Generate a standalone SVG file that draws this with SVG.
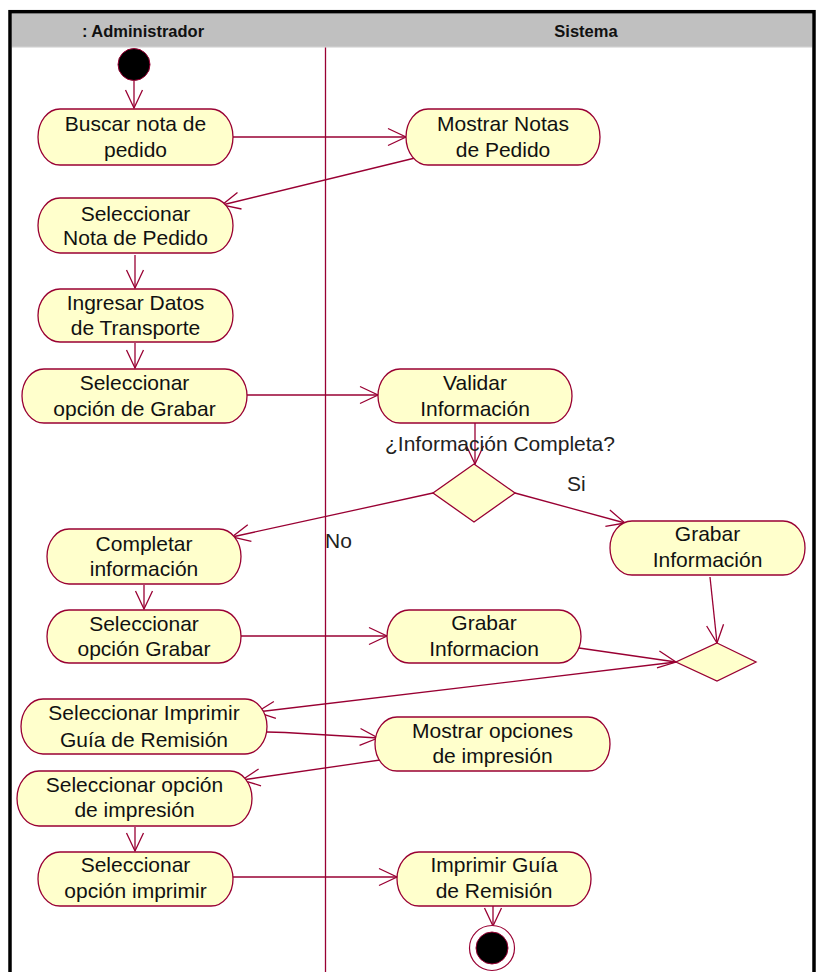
<svg xmlns="http://www.w3.org/2000/svg" width="820" height="972" viewBox="0 0 820 972">
  <defs>
    <style>
      .act { fill: #FFFFCC; stroke: #990033; stroke-width: 1.3; }
      .lbl { font-family: "Liberation Sans", Arial, sans-serif; font-size: 21px; fill: #111; text-anchor: middle; }
      .note { font-family: "Liberation Sans", Arial, sans-serif; font-size: 21px; fill: #222; }
      .hdr { font-family: "Liberation Sans", Arial, sans-serif; font-size: 16.5px; font-weight: bold; fill: #111; text-anchor: middle; }
      .flow { fill: none; stroke: #990033; stroke-width: 1.3; marker-end: url(#open); }
      .dec { fill: #FFFFCC; stroke: #990033; stroke-width: 1.3; }
    </style>
    <marker id="open" markerUnits="userSpaceOnUse" markerWidth="22" markerHeight="22" viewBox="0 0 22 22" refX="19" refY="11" orient="auto">
      <path d="M1,2.5 L19,11 L1,19.5" fill="none" stroke="#990033" stroke-width="1.3"/>
    </marker>
  </defs>

  <rect width="820" height="972" fill="#ffffff"/>

  <!-- swimlane header and frame -->
  <g id="lanes">
    <rect x="11.75" y="13.45" width="800.5" height="33.5" fill="#C0C0C0"/>
    <line x1="11.75" y1="47.2" x2="812.25" y2="47.2" stroke="#DADADA" stroke-width="1"/>
    <rect x="10" y="11.7" width="804" height="1000" fill="none" stroke="#000" stroke-width="3.5"/>
    <text class="hdr" x="143" y="36.5">: Administrador</text>
    <text class="hdr" x="586" y="36.5">Sistema</text>
    <line x1="325.5" y1="47.5" x2="325.5" y2="972" stroke="#990033" stroke-width="1.3"/>
  </g>

  <!-- connectors -->
  <g id="connectors">
    <line class="flow" x1="134" y1="81" x2="134" y2="108"/>
    <line class="flow" x1="233" y1="137" x2="406" y2="137"/>
    <line class="flow" x1="415" y1="158" x2="222" y2="205"/>
    <line class="flow" x1="135" y1="255" x2="135" y2="288"/>
    <line class="flow" x1="135" y1="343" x2="135" y2="368"/>
    <line class="flow" x1="247" y1="395" x2="378" y2="395"/>
    <line class="flow" x1="475" y1="423" x2="475" y2="464"/>
    <line class="flow" x1="433" y1="493" x2="232" y2="537"/>
    <line class="flow" x1="515" y1="493" x2="625" y2="523"/>
    <line class="flow" x1="144" y1="585" x2="144" y2="609"/>
    <line class="flow" x1="241" y1="636" x2="387" y2="636"/>
    <line class="flow" x1="710" y1="577" x2="717" y2="643"/>
    <line class="flow" x1="579" y1="648" x2="676" y2="662"/>
    <line class="flow" x1="676" y1="662" x2="257" y2="712"/>
    <polyline class="flow" points="267,732 285,732.5 378,738"/>
    <line class="flow" x1="387" y1="759" x2="242" y2="780"/>
    <line class="flow" x1="135" y1="827" x2="135" y2="851"/>
    <line class="flow" x1="233" y1="877" x2="397" y2="877"/>
    <line class="flow" x1="493" y1="906" x2="493" y2="926"/>
    <text class="note" x="500" y="450.5" text-anchor="middle">¿Información Completa?</text>
    <text class="note" x="567" y="490.5">Si</text>
    <text class="note" x="325" y="547.5">No</text>
  </g>

  <!-- start / end -->
  <g id="start">
    <circle cx="134" cy="64.5" r="16" fill="#000" stroke="#990033" stroke-width="1"/>
  </g>
  <g id="end">
    <circle cx="492" cy="948" r="22.5" fill="#fff" stroke="#990033" stroke-width="1.2"/>
    <circle cx="492" cy="948" r="16" fill="#000" stroke="#990033" stroke-width="1"/>
  </g>

  <!-- activities: Administrador lane -->
  <g id="buscar">
    <rect class="act" x="38" y="109" width="195" height="56" rx="22" ry="28"/>
    <text class="lbl" x="135.5" y="130.5">Buscar nota de</text>
    <text class="lbl" x="135.5" y="156.5">pedido</text>
  </g>
  <g id="selNota">
    <rect class="act" x="38" y="198" width="195" height="55" rx="22" ry="27.5"/>
    <text class="lbl" x="135.5" y="220.5">Seleccionar</text>
    <text class="lbl" x="135.5" y="244.5">Nota de Pedido</text>
  </g>
  <g id="ingresar">
    <rect class="act" x="38" y="289" width="195" height="53" rx="22" ry="26.5"/>
    <text class="lbl" x="135.5" y="309.5">Ingresar Datos</text>
    <text class="lbl" x="135.5" y="334.5">de Transporte</text>
  </g>
  <g id="selGrabar1">
    <rect class="act" x="22" y="369" width="225" height="54" rx="22" ry="27"/>
    <text class="lbl" x="134.5" y="389.5">Seleccionar</text>
    <text class="lbl" x="134.5" y="415.5">opción de Grabar</text>
  </g>
  <g id="completar">
    <rect class="act" x="47" y="529" width="194" height="55" rx="22" ry="27.5"/>
    <text class="lbl" x="144" y="550.5">Completar</text>
    <text class="lbl" x="144" y="575.5">información</text>
  </g>
  <g id="selGrabar2">
    <rect class="act" x="47" y="610" width="194" height="53" rx="22" ry="26.5"/>
    <text class="lbl" x="144" y="630.5">Seleccionar</text>
    <text class="lbl" x="144" y="655.5">opción Grabar</text>
  </g>
  <g id="selImprimir">
    <rect class="act" x="21" y="699" width="246" height="55" rx="22" ry="27.5"/>
    <text class="lbl" x="144" y="719.5">Seleccionar Imprimir</text>
    <text class="lbl" x="144" y="746.5">Guía de Remisión</text>
  </g>
  <g id="selOpcImpresion">
    <rect class="act" x="17" y="771" width="235" height="55" rx="22" ry="27.5"/>
    <text class="lbl" x="134.5" y="791.5">Seleccionar opción</text>
    <text class="lbl" x="134.5" y="816.5">de impresión</text>
  </g>
  <g id="selOpcImprimir">
    <rect class="act" x="38" y="852" width="195" height="54" rx="22" ry="27"/>
    <text class="lbl" x="135.5" y="871.5">Seleccionar</text>
    <text class="lbl" x="135.5" y="897.5">opción imprimir</text>
  </g>

  <!-- activities: Sistema lane -->
  <g id="mostrarNotas">
    <rect class="act" x="406" y="109" width="194" height="56" rx="22" ry="28"/>
    <text class="lbl" x="503" y="130.5">Mostrar Notas</text>
    <text class="lbl" x="503" y="156.5">de Pedido</text>
  </g>
  <g id="validar">
    <rect class="act" x="378" y="369" width="194" height="54" rx="22" ry="27"/>
    <text class="lbl" x="475" y="389.5">Validar</text>
    <text class="lbl" x="475" y="415.5">Información</text>
  </g>
  <g id="decision1">
    <polygon class="dec" points="474,464 515,493 474,522 433,493"/>
  </g>
  <g id="grabarInfo1">
    <rect class="act" x="610" y="521" width="195" height="54" rx="22" ry="27"/>
    <text class="lbl" x="707.5" y="540.5">Grabar</text>
    <text class="lbl" x="707.5" y="566.5">Información</text>
  </g>
  <g id="grabarInfo2">
    <rect class="act" x="387" y="610" width="194" height="53" rx="22" ry="26.5"/>
    <text class="lbl" x="484" y="629.5">Grabar</text>
    <text class="lbl" x="484" y="655.5">Informacion</text>
  </g>
  <g id="merge">
    <polygon class="dec" points="717,643 756,662 717,681 676,662"/>
  </g>
  <g id="mostrarOpciones">
    <rect class="act" x="375" y="717" width="235" height="54" rx="22" ry="27"/>
    <text class="lbl" x="492.5" y="737.5">Mostrar opciones</text>
    <text class="lbl" x="492.5" y="762.5">de impresión</text>
  </g>
  <g id="imprimirGuia">
    <rect class="act" x="397" y="852" width="194" height="54" rx="22" ry="27"/>
    <text class="lbl" x="494" y="871.5">Imprimir Guía</text>
    <text class="lbl" x="494" y="897.5">de Remisión</text>
  </g>
</svg>
